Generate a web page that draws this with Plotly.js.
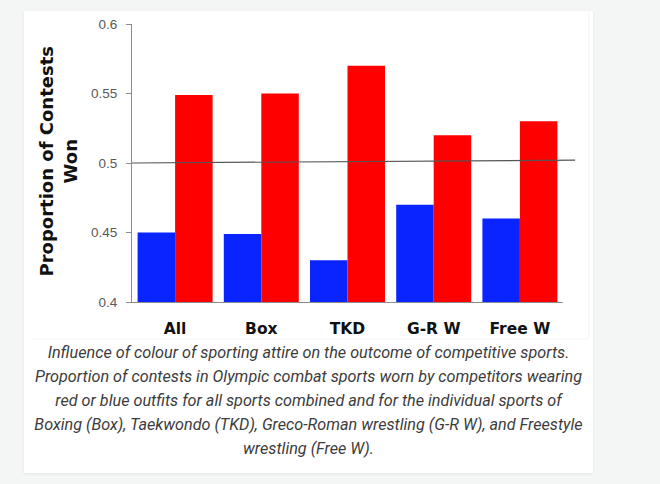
<!DOCTYPE html>
<html>
<head>
<meta charset="utf-8">
<script src="https://cdn.plot.ly/plotly-3.0.1.min.js"></script>
<style>
  html, body { margin: 0; padding: 0; width: 660px; height: 484px; background: #f4f5f5; overflow: hidden; }
  .card {
    position: absolute; left: 24px; top: 11px; width: 569px; height: 462px;
    background: #ffffff; box-shadow: 0 1px 3px rgba(0,0,0,0.07);
  }
  #chart {
    position: absolute; left: 6px; top: 0px; width: 558px; height: 327px;
    box-shadow: 1px 1px 2px rgba(0,0,0,0.05);
  }
  .caption {
    position: absolute; left: 0; top: 330px; width: 549px; padding: 0 10px;
    margin: 0; text-align: center;
    font-family: Roboto, "Noto Sans", sans-serif; font-style: italic;
    font-size: 16.2px; line-height: 24px; color: #3c3c3c;
  }
</style>
</head>
<body>
<div class="card">
  <div id="chart"></div>
  <p class="caption">Influence of colour of sporting attire on the outcome of competitive sports. Proportion of contests in Olympic combat sports worn by competitors wearing red or blue outfits for all sports combined and for the individual sports of Boxing (Box), Taekwondo (TKD), Greco-Roman wrestling (G-R W), and Freestyle wrestling (Free W).</p>
</div>
<script>
// Sports (all combined, then each discipline)
const sports = ['All', 'Box', 'TKD', 'G-R W', 'Free W'];
// Proportion of contests won by competitors in blue / in red
const blueWins = [0.45, 0.449, 0.43, 0.47, 0.46];
const redWins = [0.549, 0.55, 0.57, 0.52, 0.53];
// Y axis ticks
const yTicks = [0.4, 0.45, 0.5, 0.55, 0.6];
const yTickText = ['0.4', '0.45', '0.5', '0.55', '0.6'];
// Chance level (even split of contests)
const chanceLevel = [0.5, 0.502];

const traces = [
  { type: 'bar', name: 'Blue', x: sports, y: blueWins, marker: { color: '#0a24ff' }, hoverinfo: 'x+y' },
  { type: 'bar', name: 'Red', x: sports, y: redWins, marker: { color: '#ff0000' }, hoverinfo: 'x+y' }
];

const layout = {
  width: 558, height: 327,
  margin: { l: 102, r: 25, t: 13, b: 36 },
  paper_bgcolor: '#ffffff', plot_bgcolor: '#ffffff',
  showlegend: false,
  barmode: 'group', bargap: 0.13, bargroupgap: 0,
  xaxis: {
    type: 'category', range: [-0.5, 4.5],
    showline: true, linecolor: '#8c8c8c', linewidth: 1,
    ticks: '', showgrid: false, zeroline: false,
    tickfont: { family: 'DejaVu Sans', size: 15.5, color: '#111111', weight: 'bold' },
    ticklabelstandoff: 12
  },
  yaxis: {
    range: [0.4, 0.6000001], tickvals: yTicks, ticktext: yTickText,
    showline: true, linecolor: '#8c8c8c', linewidth: 1,
    ticks: 'outside', ticklen: 5, tickcolor: '#8c8c8c',
    showgrid: false, zeroline: false,
    tickfont: { family: 'Liberation Sans, Arial, sans-serif', size: 13.5, color: '#595959' },
    ticklabelstandoff: 6
  },
  shapes: [{
    type: 'line', xref: 'paper', yref: 'y',
    x0: 0, x1: 1.028, y0: chanceLevel[0], y1: chanceLevel[1],
    line: { color: '#555555', width: 1.2 }, layer: 'above'
  }],
  annotations: [{
    text: 'Proportion of Contests<br>Won', showarrow: false,
    xref: 'paper', yref: 'paper', x: -0.172, y: 0.505,
    xanchor: 'center', yanchor: 'middle', textangle: -90,
    font: { family: 'DejaVu Sans', size: 18, color: '#111111', weight: 'bold' }
  }]
};

Plotly.newPlot('chart', traces, layout, { displayModeBar: false, staticPlot: true });
</script>
</body>
</html>
